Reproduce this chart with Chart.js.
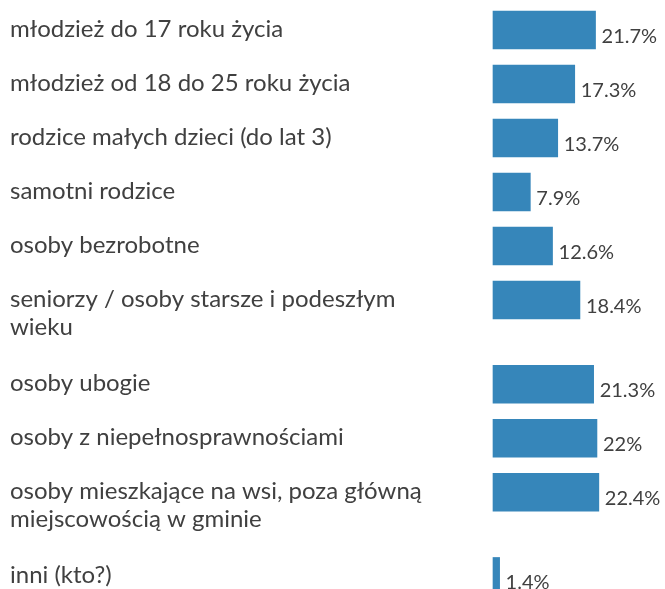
<!DOCTYPE html>
<html>
<head>
<meta charset="utf-8">
<script src="https://cdn.jsdelivr.net/npm/chart.js@4"></script>
<style>
  html, body { margin: 0; padding: 0; background: #fff; overflow: hidden; }
  #wrap { position: relative; width: 665px; height: 589px; }
</style>
</head>
<body>
<div id="wrap"><canvas id="chart"></canvas></div>
<script>
// ---------- Data ----------
const categories = [
  ["młodzież do 17 roku życia"],
  ["młodzież od 18 do 25 roku życia"],
  ["rodzice małych dzieci (do lat 3)"],
  ["samotni rodzice"],
  ["osoby bezrobotne"],
  ["seniorzy / osoby starsze i podeszłym", "wieku"],
  ["osoby ubogie"],
  ["osoby z niepełnosprawnościami"],
  ["osoby mieszkające na wsi, poza główną", "miejscowością w gminie"],
  ["inni (kto?)"]
];
const values = [21.7, 17.3, 13.7, 7.9, 12.6, 18.4, 21.3, 22, 22.4, 1.4];

const BAR_COLOR = "#3686ba";
const TEXT_COLOR = "#404040";
const FONT = "Lato";
const EXTRA_LINE = 0.56; // extra row space (in rows) for each wrapped label line

// row positions: wrapped labels push the following rows down
let acc = 0;
const rowPos = categories.map(lines => {
  const p = acc;
  acc += 1 + EXTRA_LINE * (lines.length - 1);
  return p;
});

const points = values.map((v, i) => ({ x: v, y: rowPos[i] }));

// ---------- Plugins ----------
const labelPlugin = {
  id: "rowLabels",
  afterDatasetsDraw(chart) {
    const ctx = chart.ctx;
    const yScale = chart.scales.y;
    const meta = chart.getDatasetMeta(0);
    ctx.save();
    ctx.fillStyle = TEXT_COLOR;
    ctx.textBaseline = "alphabetic";

    // category labels on the left
    ctx.font = `24px ${FONT}`;
    ctx.textAlign = "left";
    categories.forEach((lines, i) => {
      const cy = yScale.getPixelForValue(rowPos[i]);
      lines.forEach((line, j) => {
        ctx.fillText(line, 10, cy + 7 + j * 28);
      });
    });

    // value labels right of the bars
    ctx.font = `20px ${FONT}`;
    meta.data.forEach((bar, i) => {
      ctx.fillText(values[i] + "%", bar.x + 6, bar.y + 12.5);
    });
    ctx.restore();
  }
};

// ---------- Chart ----------
new Chart(document.getElementById("chart").getContext("2d"), {
  type: "bar",
  data: {
    datasets: [{
      data: points,
      backgroundColor: BAR_COLOR,
      borderWidth: 0,
      barThickness: 38,
      clip: false
    }]
  },
  options: {
    indexAxis: "y",
    responsive: true,
    maintainAspectRatio: false,
    animation: false,
    layout: { padding: { left: 493, right: 0, top: 0, bottom: 0 } },
    plugins: { legend: { display: false }, tooltip: { enabled: false } },
    scales: {
      x: { type: "linear", display: false, min: 0, max: 36.4, offset: false },
      y: { type: "linear", display: false, reverse: true, offset: false, min: -0.556, max: 10.352 }
    }
  },
  plugins: [labelPlugin]
});
</script>
</body>
</html>
